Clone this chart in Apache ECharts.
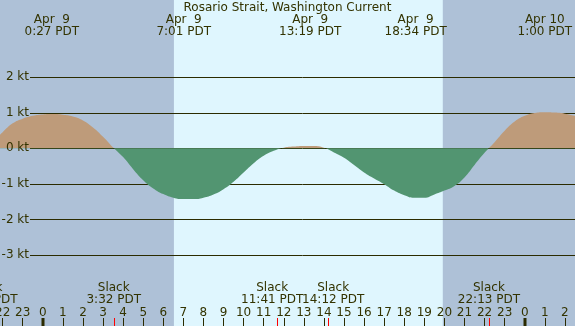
<!DOCTYPE html>
<html>
<head>
<meta charset="utf-8">
<title>Rosario Strait, Washington Current</title>
<script src="https://cdn.jsdelivr.net/npm/echarts/dist/echarts.min.js"></script>
<style>
  html, body { margin: 0; padding: 0; }
  #tideCurrent { width: 575px; height: 326px; }
</style>
</head>
<body>
<div id="tideCurrent"></div>
<script>
// hours after midnight Apr 9 (PDT) and current in knots (+ flood, - ebb)
var hours = [-3, -2.5, -2, -1.5, -1, -0.5, 0, 0.5, 1, 1.5, 2, 2.5, 3, 3.5, 4, 4.5, 5, 5.5, 6, 6.5,
  7, 7.5, 8, 8.5, 9, 9.5, 10, 10.5, 11, 11.5, 12, 12.5, 13, 13.5, 14, 14.5, 15, 15.5, 16, 16.5,
  17, 17.5, 18, 18.5, 19, 19.5, 20, 20.5, 21, 21.5, 22, 22.5, 23, 23.5, 24, 24.5, 25, 25.5, 26, 26.5, 27];
var speeds = [-0.1, 0.18, 0.45, 0.7, 0.83, 0.91, 0.95, 0.96, 0.94, 0.89, 0.78, 0.58, 0.32, 0.02, -0.25, -0.59, -0.9, -1.13, -1.29, -1.39,
  -1.43, -1.43, -1.39, -1.3, -1.15, -0.94, -0.68, -0.42, -0.21, -0.07, 0.015, 0.045, 0.062, 0.06, 0.01, -0.12, -0.27, -0.47, -0.68, -0.85,
  -1.01, -1.19, -1.32, -1.39, -1.39, -1.3, -1.19, -1.06, -0.82, -0.47, -0.13, 0.17, 0.49, 0.75, 0.91, 0.99, 1.01, 1.0, 0.97, 0.91, 0.83];

// max flood / max ebb (top labels)
var peakHours = [0.45, 7.017, 13.317, 18.567, 25.0];
var peakDates = ['Apr  9', 'Apr  9', 'Apr  9', 'Apr  9', 'Apr 10'];
var peakTimes = ['0:27 PDT', '7:01 PDT', '13:19 PDT', '18:34 PDT', '1:00 PDT'];

// slack water (bottom labels + red ticks)
var slackHours = [-2.8, 3.533, 11.683, 14.2, 22.217];
var slackTimes = ['21:12 PDT', '3:32 PDT', '11:41 PDT', '14:12 PDT', '22:13 PDT'];

var midnights = [0, 24];
var daylight = [6.53, 19.92]; // sunrise, sunset
var ktTicks = [-3, -2, -1, 0, 1, 2];
var hourRange = [-3, 27];

var NIGHT = '#aec1d7', DAY = '#dff6fe';
var FLOOD = '#be9b7a', EBB = '#529571';
var INK = '#333300', GRID = '#2b2b00';
var FONT = 'DejaVu Sans';

// layout: midnight Apr 9 sits at x=42.8, 20.08 px per hour
var hourPx = 20.08, x0 = 42.8;
var gridLeft = x0 + hourRange[0] * hourPx;
var gridRight = 575 - (x0 + hourRange[1] * hourPx);
var lineStart = 30;   // grid lines begin right of the kt labels
var slackGap = 61;    // min distance between slack labels

function textEl(x, y, s, align) {
  return {
    type: 'text', x: x, y: y,
    style: { text: s, fill: INK, fontSize: 12, fontFamily: FONT, align: align || 'center', verticalAlign: 'middle' }
  };
}

var chart = echarts.init(document.getElementById('tideCurrent'));
chart.setOption({
  animation: false,
  backgroundColor: NIGHT,
  title: {
    text: 'Rosario Strait, Washington Current',
    left: 'center', top: 2, padding: 0,
    textStyle: { fontSize: 12, fontWeight: 'normal', color: INK, fontFamily: FONT }
  },
  grid: [
    { left: gridLeft, right: gridRight, top: 0, bottom: 0, outerBoundsMode: 'none', containLabel: false },
    { left: gridLeft, right: gridRight, top: 77, bottom: 71, outerBoundsMode: 'none', containLabel: false }
  ],
  xAxis: [
    {
      type: 'value', gridIndex: 0, position: 'bottom',
      min: hourRange[0], max: hourRange[1], interval: 1,
      axisLine: { show: false },
      splitLine: { show: false },
      axisTick: { inside: true, length: 8, lineStyle: { color: GRID } },
      axisLabel: {
        inside: true, margin: 7, color: INK, fontSize: 12, fontFamily: FONT,
        formatter: function (v) { return String(((v % 24) + 24) % 24); }
      }
    },
    { type: 'value', gridIndex: 1, min: hourRange[0], max: hourRange[1], show: false }
  ],
  yAxis: [
    { type: 'value', gridIndex: 0, min: 0, max: 1, show: false },
    { type: 'value', gridIndex: 1, min: ktTicks[0], max: ktTicks[ktTicks.length - 1], show: false }
  ],
  // finite pieces, otherwise the line gets no gradient stops
  visualMap: {
    type: 'piecewise', show: false, dimension: 1, seriesIndex: 2,
    pieces: [{ min: -10, max: 0, color: EBB }, { min: 0, max: 10, color: FLOOD }]
  },
  series: [
    // daylight band
    {
      type: 'custom', xAxisIndex: 0, yAxisIndex: 0, silent: true, z: -2,
      data: [[daylight[0], daylight[1]]],
      renderItem: function (params, api) {
        var a = api.coord([api.value(0), 0])[0];
        var b = api.coord([api.value(1), 0])[0];
        return { type: 'rect', shape: { x: a, y: 0, width: b - a, height: api.getHeight() }, style: { fill: DAY } };
      }
    },
    // kt grid lines (under the fill)
    {
      type: 'custom', xAxisIndex: 1, yAxisIndex: 1, silent: true, z: -1,
      data: ktTicks.map(function (v) { return [0, v]; }),
      renderItem: function (params, api) {
        var y = Math.round(api.coord([0, api.value(1)])[1]) + 0.5;
        return {
          type: 'line', shape: { x1: lineStart, y1: y, x2: api.getWidth(), y2: y },
          style: { stroke: GRID, lineWidth: 1 }
        };
      }
    },
    // current
    {
      type: 'line', xAxisIndex: 1, yAxisIndex: 1, silent: true,
      data: hours.map(function (h, i) { return [h, speeds[i]]; }),
      smooth: true, symbol: 'none',
      lineStyle: { width: 0 },
      areaStyle: { opacity: 1 }
    },
    // kt labels
    {
      type: 'custom', xAxisIndex: 1, yAxisIndex: 1, silent: true, z: 3,
      data: ktTicks.map(function (v) { return [0, v]; }),
      renderItem: function (params, api) {
        var v = api.value(1);
        var y = api.coord([0, v])[1];
        return textEl(lineStart - 1, y, v + ' kt', 'right');
      }
    },
    // midnight ticks
    {
      type: 'custom', xAxisIndex: 0, yAxisIndex: 0, silent: true, z: 3,
      data: midnights.map(function (h) { return [h, 0]; }),
      renderItem: function (params, api) {
        var x = api.coord([api.value(0), 0])[0];
        return { type: 'rect', shape: { x: Math.round(x) - 1.5, y: 318, width: 3, height: 8 }, style: { fill: GRID } };
      }
    },
    // slack ticks
    {
      type: 'custom', xAxisIndex: 0, yAxisIndex: 0, silent: true, z: 3,
      data: slackHours.map(function (h) { return [h, 0]; }),
      renderItem: function (params, api) {
        var x = api.coord([api.value(0), 0])[0];
        return { type: 'rect', shape: { x: Math.round(x), y: 318, width: 1, height: 8 }, style: { fill: '#ff0000' } };
      }
    },
    // top labels
    {
      type: 'custom', xAxisIndex: 0, yAxisIndex: 0, silent: true, z: 3,
      data: peakHours.map(function (h, i) { return [h, i]; }),
      renderItem: function (params, api) {
        var x = api.coord([api.value(0), 0])[0];
        var i = params.dataIndex;
        return { type: 'group', children: [textEl(x, 20, peakDates[i]), textEl(x, 31.5, peakTimes[i])] };
      }
    },
    // slack labels, pushed apart a little when two are close
    {
      type: 'custom', xAxisIndex: 0, yAxisIndex: 0, silent: true, z: 3,
      data: slackHours.map(function (h, i) { return [h, i]; }),
      renderItem: function (params, api) {
        var i = params.dataIndex;
        var x = api.coord([slackHours[i], 0])[0];
        var shift = 0;
        if (i > 0) {
          var d = x - api.coord([slackHours[i - 1], 0])[0];
          if (d < slackGap) shift += (slackGap - d) / 2;
        }
        if (i < slackHours.length - 1) {
          var d2 = api.coord([slackHours[i + 1], 0])[0] - x;
          if (d2 < slackGap) shift -= (slackGap - d2) / 2;
        }
        x += shift;
        return { type: 'group', children: [textEl(x, 288, 'Slack'), textEl(x, 299.5, slackTimes[i])] };
      }
    }
  ]
});
</script>
</body>
</html>
